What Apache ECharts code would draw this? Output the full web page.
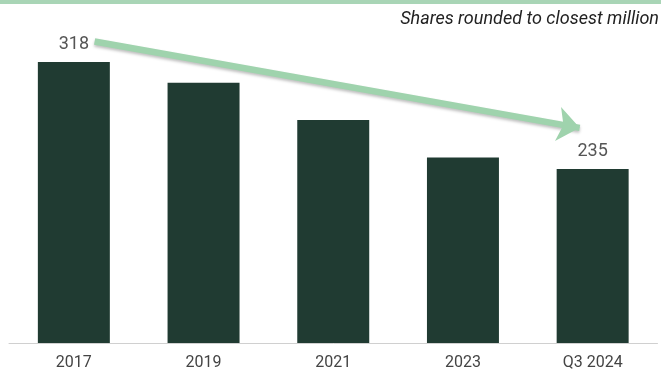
<!DOCTYPE html>
<html><head><meta charset="utf-8">
<script src="https://cdn.jsdelivr.net/npm/echarts@6/dist/echarts.min.js"></script>
<style>html,body{margin:0;padding:0;background:#fff}#c{width:661px;height:371px}</style>
</head><body><div id="c"></div>
<script>
var categories = ['2017', '2019', '2021', '2023', 'Q3 2024'];
var shares = [318, 302, 273, 244, 235];
var labelledIdx = [0, 4];
var subtitle = 'Shares rounded to closest million';
var arrowFrom = [0.16, 334];
var arrowTo = [3.9, 267];

var chart = echarts.init(document.getElementById('c'));
chart.setOption({
  animation: false,
  grid: {left: 9, right: 3.5, top: 8, bottom: 28, containLabel: false},
  graphic: [
    {type: 'rect', left: 0, top: 0, shape: {width: 661, height: 4}, style: {fill: '#a9d5b6'}},
    {type: 'text', right: 2, top: 10, style: {text: subtitle, font: 'italic 18px Roboto', fill: '#222'}}
  ],
  xAxis: [{
    type: 'category', data: categories,
    axisTick: {show: false},
    axisLine: {lineStyle: {color: '#d0d0d0', width: 1}},
    axisLabel: {color: '#444', fontSize: 16, fontFamily: 'Roboto', margin: 12}
  }, {
    type: 'value', min: -0.5, max: 4.5, show: false, splitLine: {show: false}
  }],
  yAxis: {type: 'value', min: 100, max: 360, show: false, splitLine: {show: false}},
  series: [{
    type: 'bar', barWidth: '55.5%',
    data: shares.map(function (v, i) {
      return {value: v, label: {show: labelledIdx.indexOf(i) >= 0}};
    }),
    itemStyle: {color: '#203b32'},
    label: {position: 'top', distance: 9, color: '#555', fontSize: 18, fontFamily: 'Roboto'}
  }, {
    type: 'scatter', xAxisIndex: 1, data: [], silent: true,
    markLine: {
      silent: true,
      symbol: ['none', 'arrow'],
      symbolSize: [26, 22],
      label: {show: false},
      lineStyle: {color: '#9fd3ad', width: 6.5, type: 'solid', shadowColor: 'rgba(0,0,0,0.25)', shadowBlur: 3, shadowOffsetY: 2},
      data: [[{coord: arrowFrom}, {coord: arrowTo}]]
    }
  }]
});
</script></body></html>
